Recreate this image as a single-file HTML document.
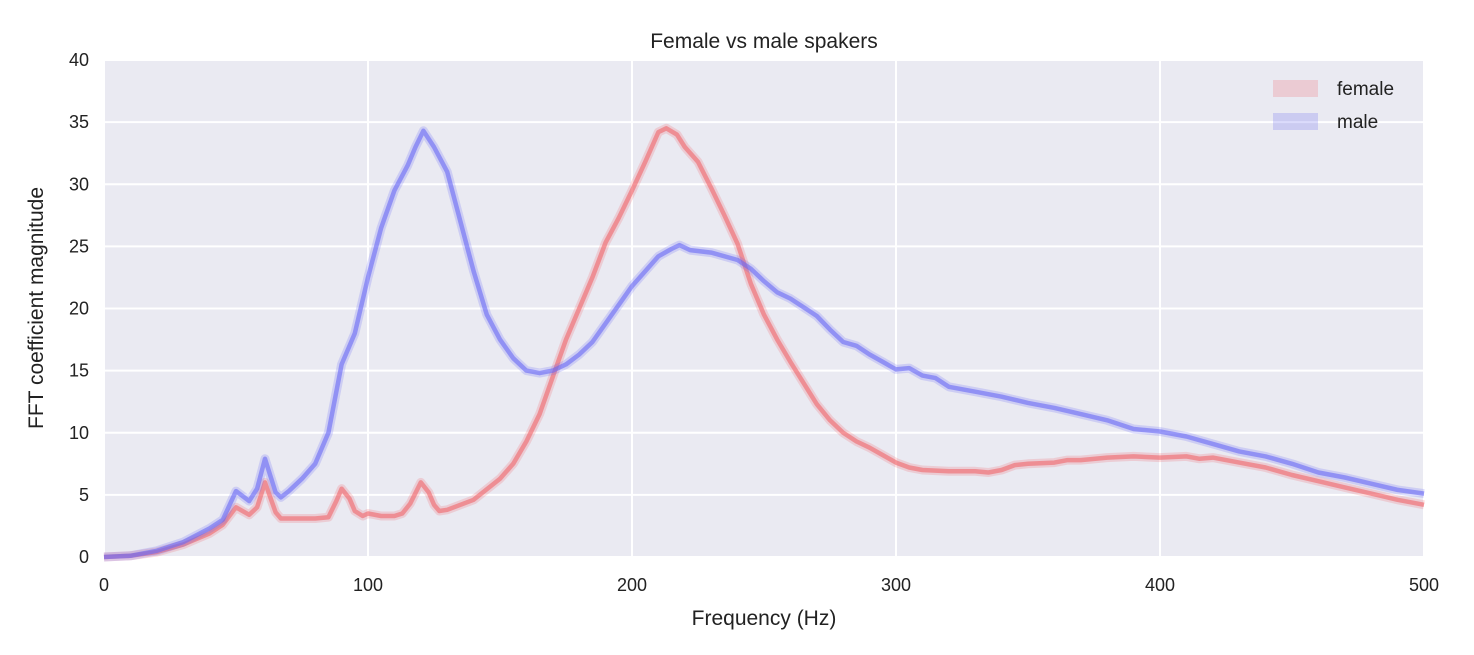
<!DOCTYPE html>
<html><head><meta charset="utf-8"><style>
body{margin:0;background:#fff;}
svg{display:block;font-family:"Liberation Sans",Arial,sans-serif;}
</style></head><body>
<svg id="chart" width="1474" height="655" viewBox="0 0 1474 655">
<rect x="104" y="60" width="1320" height="497" fill="#eaeaf2"/>
<g id="grid"></g>
<g id="series"></g>
<g id="ticks"></g>
<text x="764" y="48" text-anchor="middle" font-size="21" fill="#222">Female vs male spakers</text>
<text x="764" y="625" text-anchor="middle" font-size="21" fill="#222">Frequency (Hz)</text>
<text transform="translate(43,308) rotate(-90)" text-anchor="middle" font-size="21" fill="#222">FFT coefficient magnitude</text>
<g>
<g><rect x="1273" y="80" width="45" height="17" fill="rgba(240,110,120,0.25)"/><text x="1337" y="95" font-size="19" fill="#222">female</text></g>
<g><rect x="1273" y="113" width="45" height="17" fill="rgba(110,110,240,0.25)"/><text x="1337" y="128" font-size="19" fill="#222">male</text></g>
</g>
</svg>
<script>
const xTicks=[0,100,200,300,400,500];
const yTicks=[0,5,10,15,20,25,30,35,40];
const maleFreq=[0,10,20,30,40,45,50,55,58,61,65,67,70,75,80,85,90,95,100,105,110,115,118,121,125,130,135,140,145,150,155,160,165,170,175,180,185,190,195,200,205,210,215,218,222,230,240,245,250,255,260,265,270,275,280,285,290,295,300,305,310,315,320,330,340,350,360,370,380,390,400,410,420,430,440,450,460,470,480,490,500];
const maleVal=[0,0.1,0.5,1.2,2.3,3.0,5.3,4.5,5.5,7.9,5.2,4.8,5.3,6.3,7.5,10,15.5,18,22.5,26.5,29.5,31.5,33,34.3,33,31,27,23,19.5,17.5,16,15,14.8,15,15.5,16.3,17.3,18.8,20.3,21.8,23,24.2,24.8,25.1,24.7,24.5,23.9,23.2,22.2,21.3,20.8,20.1,19.4,18.3,17.3,17,16.3,15.7,15.1,15.2,14.6,14.4,13.7,13.3,12.9,12.4,12.0,11.5,11.0,10.3,10.1,9.7,9.1,8.5,8.1,7.5,6.8,6.4,5.9,5.4,5.1];
const femaleFreq=[0,10,20,30,40,45,50,55,58,61,65,67,80,85,88,90,93,95,98,100,105,110,113,116,120,123,125,127,130,140,150,155,160,165,170,175,180,185,190,195,200,205,210,213,217,220,225,230,235,240,245,250,255,260,265,270,275,280,285,290,295,300,305,310,320,330,335,340,345,350,360,365,370,380,390,400,410,415,420,430,440,450,460,470,480,490,500];
const femaleVal=[0,0.1,0.4,1.0,1.9,2.6,4.0,3.4,4.0,6.0,3.6,3.1,3.1,3.2,4.5,5.5,4.7,3.7,3.3,3.5,3.3,3.3,3.5,4.3,6.0,5.2,4.2,3.7,3.8,4.6,6.3,7.5,9.3,11.5,14.5,17.5,20,22.5,25.3,27.3,29.5,31.8,34.2,34.5,34,33,31.8,29.7,27.5,25.2,22,19.5,17.5,15.7,14,12.3,11,10,9.3,8.8,8.2,7.6,7.2,7.0,6.9,6.9,6.8,7.0,7.4,7.5,7.6,7.8,7.8,8.0,8.1,8.0,8.1,7.9,8.0,7.6,7.2,6.6,6.1,5.6,5.1,4.6,4.2];
const NS='http://www.w3.org/2000/svg';
const X0=104,X1=1424,Y0=557,Y1=60;
function xs(f){return X0+(f-0)/(500-0)*(X1-X0);}
function ys(v){return Y0-(v-0)/(40-0)*(Y0-Y1);}
const grid=document.getElementById('grid'),ticks=document.getElementById('ticks'),ser=document.getElementById('series');
xTicks.forEach(t=>{
 const l=document.createElementNS(NS,'line');
 
 
 l.setAttribute('x1',xs(t));l.setAttribute('x2',xs(t));l.setAttribute('y1',Y1);l.setAttribute('y2',Y0);
 l.setAttribute('stroke','#fff');l.setAttribute('stroke-width','2');grid.appendChild(l);
 const tx=document.createElementNS(NS,'text');
 
 
 tx.setAttribute('x',xs(t));tx.setAttribute('y',591);tx.setAttribute('text-anchor','middle');tx.setAttribute('font-size','18');tx.setAttribute('fill','#222');tx.textContent=t;ticks.appendChild(tx);
});
yTicks.forEach(t=>{
 const l=document.createElementNS(NS,'line');
 
 
 l.setAttribute('x1',X0);l.setAttribute('x2',X1);l.setAttribute('y1',ys(t));l.setAttribute('y2',ys(t));
 l.setAttribute('stroke','#fff');l.setAttribute('stroke-width','2');grid.appendChild(l);
 const tx=document.createElementNS(NS,'text');
 
 
 tx.setAttribute('x',89);tx.setAttribute('y',ys(t)+6);tx.setAttribute('text-anchor','end');tx.setAttribute('font-size','18');tx.setAttribute('fill','#222');tx.textContent=t;ticks.appendChild(tx);
});
function drawSeries(fr,vals,rgb,name){
 const pts=fr.map((f,i)=>xs(f).toFixed(1)+','+ys(vals[i]).toFixed(1)).join(' ');
 const outer=document.createElementNS(NS,'polyline');
 
 
 outer.setAttribute('points',pts);outer.setAttribute('fill','none');outer.setAttribute('stroke','rgba('+rgb+',0.22)');outer.setAttribute('stroke-width','9');outer.setAttribute('stroke-linejoin','round');
 ser.appendChild(outer);
 const inner=document.createElementNS(NS,'polyline');
 
 
 inner.setAttribute('points',pts);inner.setAttribute('fill','none');inner.setAttribute('stroke','rgba('+rgb+',0.6)');inner.setAttribute('stroke-width','4.5');inner.setAttribute('stroke-linejoin','round');
 ser.appendChild(inner);
}
drawSeries(femaleFreq,femaleVal,'240,100,105','female');
drawSeries(maleFreq,maleVal,'105,105,245','male');
</script>
</body></html>
